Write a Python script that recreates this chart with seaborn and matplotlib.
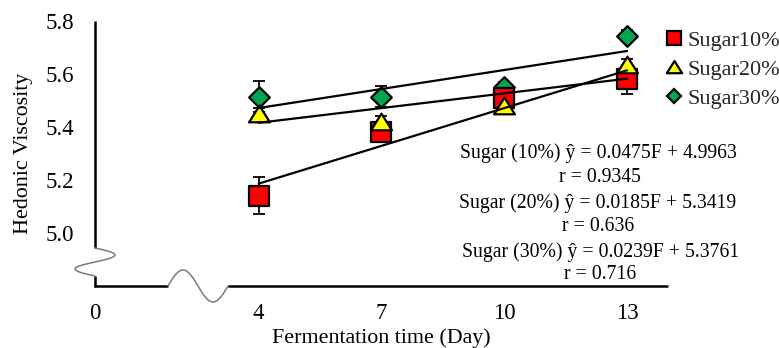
import numpy as np
import pandas as pd
import matplotlib
matplotlib.use("Agg")
import matplotlib.pyplot as plt
from matplotlib.lines import Line2D
from matplotlib.path import Path
import seaborn as sns

# ---- data ----
days = [4, 7, 10, 13]
series = ["Sugar10%", "Sugar20%", "Sugar30%"]
sugar10 = [5.14, 5.38, 5.51, 5.58]
sugar20 = [5.45, 5.42, 5.48, 5.635]
sugar30 = [5.515, 5.515, 5.55, 5.745]
err10 = [0.07, 0.03, 0.03, 0.055]
err20 = [0.02, 0.02, 0.02, 0.02]
err30 = [0.06, 0.04, 0.02, 0.02]
slopes = [0.0475, 0.0185, 0.0239]
intercepts = [4.9963, 5.3419, 5.3761]
eq_lines = ["Sugar (10%) ŷ = 0.0475F + 4.9963", "r = 0.9345",
            "Sugar (20%) ŷ = 0.0185F + 5.3419", "r = 0.636",
            "Sugar (30%) ŷ = 0.0239F + 5.3761", "r = 0.716"]
xticks = [0, 4, 7, 10, 13]
yticks = [5.0, 5.2, 5.4, 5.6, 5.8]

sns.set_theme(style="white")
plt.rcParams["font.family"] = ["Liberation Serif", "DejaVu Serif"]

W, H = 779, 348
fig = plt.figure(figsize=(W / 100, H / 100), dpi=100)
ax = fig.add_axes([95 / W, 1 - 286 / H, (668 - 95) / W, (286 - 21) / H])

tri = Path([(-1, -0.75), (1, -0.75), (0, 0.85), (-1, -0.75)],
           [Path.MOVETO, Path.LINETO, Path.LINETO, Path.CLOSEPOLY])

styles = {
    "Sugar10%": dict(marker="s", color="#FF0000", s=14 ** 2, z=3),
    "Sugar20%": dict(marker=tri, color="#FFFF00", s=15 ** 2, z=4),
    "Sugar30%": dict(marker="D", color="#00A651", s=10.5 ** 2, z=2),
}
errs = {"Sugar10%": err10, "Sugar20%": err20, "Sugar30%": err30}

df = pd.DataFrame({
    "day": days * 3,
    "value": sugar10 + sugar20 + sugar30,
    "series": [s for s in series for _ in days],
})

for name in series:
    sub = df[df["series"] == name]
    st = styles[name]
    ax.errorbar(sub["day"], sub["value"], yerr=errs[name], fmt="none",
                ecolor="black", elinewidth=1.3, capsize=4, capthick=1.3, zorder=1)
    sns.scatterplot(data=sub, x="day", y="value", marker=st["marker"], s=st["s"],
                    color=st["color"], edgecolor="black", linewidth=1.6,
                    ax=ax, zorder=st["z"], legend=False)

# trendlines from stated equations
xfit = np.array([days[0], days[-1]])
for m, b in zip(slopes, intercepts):
    ax.plot(xfit, m * xfit + b, color="black", lw=1.6, zorder=6)

ax.set_xlim(0, 14)
ax.set_ylim(4.8, 5.8)
ax.set_xticks(xticks)
ax.set_xticklabels([str(t) for t in xticks])
ax.set_yticks(yticks)
ax.set_yticklabels([f"{t:.1f}" for t in yticks])
ax.tick_params(axis="both", length=0, labelsize=16.5, colors="black")
ax.tick_params(axis="y", pad=15)
ax.tick_params(axis="x", pad=12)
for sp in ax.spines.values():
    sp.set_visible(False)
ax.set_xlabel("Fermentation time (Day)", fontsize=15.8, labelpad=3, color="black")
ax.set_ylabel("Hedonic Viscosity", fontsize=15.8, labelpad=9, color="black")
ax.grid(False)


# ---- broken axes drawn in figure pixel coordinates ----
def px(xs, ys):
    return np.asarray(xs) / W, 1 - np.asarray(ys) / H


def fline(xs, ys, **kw):
    x, y = px(xs, ys)
    fig.add_artist(Line2D(x, y, transform=fig.transFigure, **kw))


blk = dict(color="black", lw=1.8, solid_capstyle="butt")
gry = dict(color="#7a7a7a", lw=1.1)
# y axis
fline([95, 95], [21, 248], **blk)
fline([95, 95], [276, 287], **blk)
s = np.linspace(0, 1, 60)
fline(95 + 20 * np.sin(2 * np.pi * s), 248 + 28 * s, **gry)
# x axis
fline([94, 168], [286, 286], **blk)
fline(168 + 60 * s, 286 - 16 * np.sin(2 * np.pi * s), **gry)
fline([228, 668], [286, 286], **blk)

# equations (baseline positions in pixels)
eq_pos = [(598, 158), (600, 181.5), (598, 208), (598.5, 231), (601, 257), (600.5, 279)]
for txt, (xp, yp) in zip(eq_lines, eq_pos):
    x, y = px(xp, yp)
    fig.text(x, y, txt, ha="center", va="baseline", fontsize=14.2, color="black")

# legend
handles = [
    Line2D([], [], marker="s", ls="none", markerfacecolor="#FF0000",
           markeredgecolor="black", markeredgewidth=1.6, markersize=10),
    Line2D([], [], marker=tri, ls="none", markerfacecolor="#FFFF00",
           markeredgecolor="black", markeredgewidth=1.6, markersize=11),
    Line2D([], [], marker="D", ls="none", markerfacecolor="#00A651",
           markeredgecolor="black", markeredgewidth=1.6, markersize=7.5),
]
lx, ly = px(664, 30)
fig.legend(handles, series, loc="upper left", bbox_to_anchor=(lx, ly),
           frameon=False, fontsize=16, handlelength=0.9, handletextpad=0.15,
           labelspacing=0.38, borderpad=0, borderaxespad=0)

fig.savefig("out.png", dpi=100)
